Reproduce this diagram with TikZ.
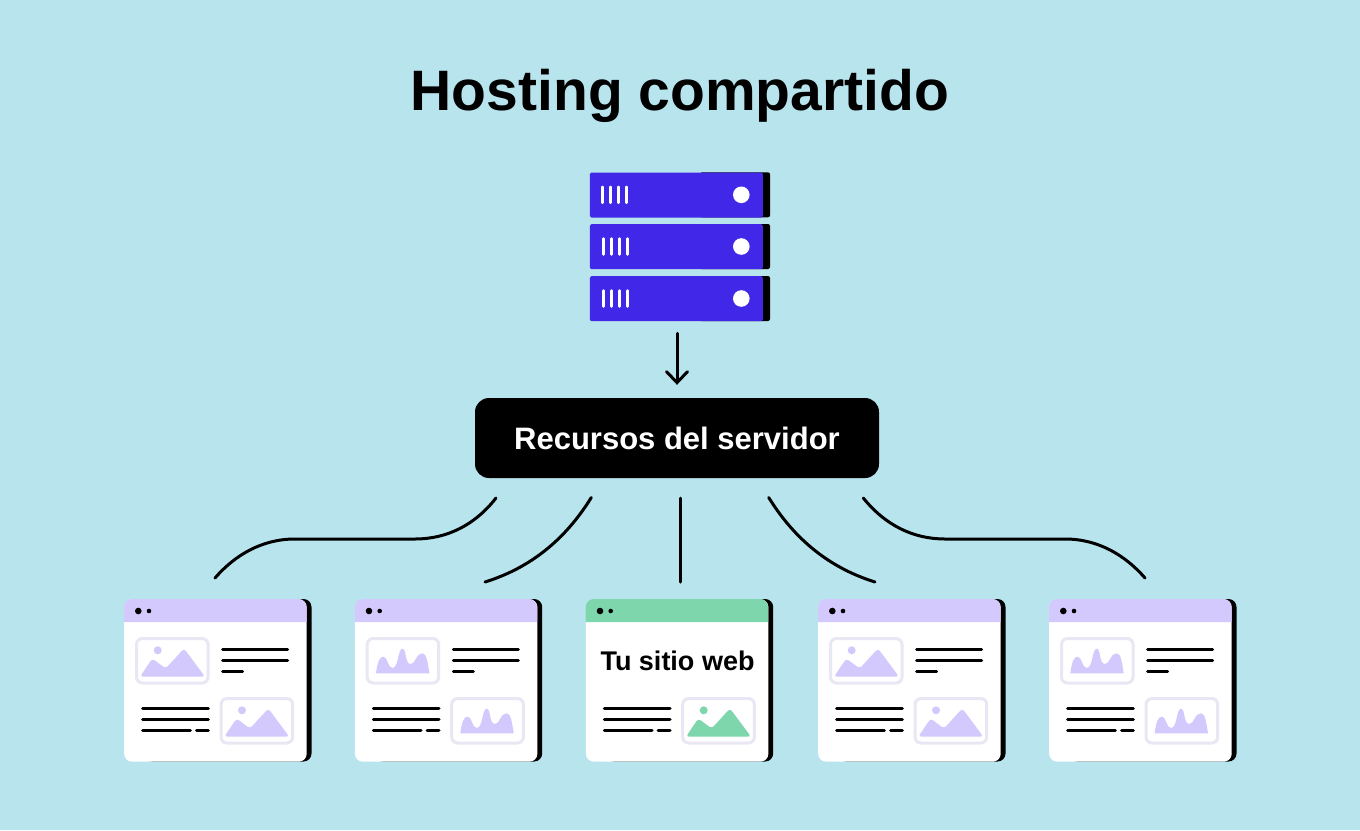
\documentclass[tikz,border=0pt]{standalone}
\usepackage{fontspec}
\setmainfont{Liberation Sans}
\usetikzlibrary{arrows.meta}

\definecolor{skybg}{HTML}{B8E4ED}
\definecolor{lilac}{HTML}{D3C9FC}
\definecolor{mint}{HTML}{7DD6AC}
\definecolor{rackblue}{HTML}{4128E8}
\definecolor{frameline}{HTML}{E9E7F3}

\tikzset{
  rack/.style={fill=rackblue,draw=none,rectangle,rounded corners=1.5pt,minimum width=173pt,minimum height=45pt,inner sep=0pt,anchor=north west},
  rackback/.style={fill=black,rounded corners=2pt},
  rackmark/.style={white,line width=2.5pt,line cap=round},
  winbox/.style={fill=white,draw=none,rectangle,rounded corners=8pt,minimum width=182.5pt,minimum height=162.5pt,inner sep=0pt,anchor=north west},
  textline/.style={black,line width=3pt,line cap=round},
  link/.style={black,line width=3pt,line cap=round},
  picframe/.style={frameline,line width=3pt,rounded corners=6pt}
}

% pictures inside a frame, #1 and #2 are the top left of the window
\newcommand{\mountain}[3]{
  \fill[#3] (#1+33.7,#2+51.3) circle[radius=4pt];
  \fill[#3,rounded corners=3pt] (#1+16,#2+77.7) -- (#1+28.3,#2+59.5) -- (#1+41.7,#2+69.5) -- (#1+60,#2+49.5) -- (#1+81,#2+77.7) -- cycle;
}
\newcommand{\waves}[3]{
  \fill[#3] (#1+21.3,#2+74.3) .. controls (#1+23,#2+62) and (#1+25,#2+57.7) .. (#1+28.7,#2+57.7)
    .. controls (#1+33,#2+57.7) and (#1+33,#2+69) .. (#1+37.7,#2+69)
    .. controls (#1+44,#2+69) and (#1+43,#2+49.7) .. (#1+47.7,#2+49.7)
    .. controls (#1+52,#2+49.7) and (#1+50,#2+65) .. (#1+56,#2+65)
    .. controls (#1+61,#2+65) and (#1+61,#2+54.3) .. (#1+67.7,#2+54.3)
    .. controls (#1+72,#2+54.3) and (#1+73,#2+64) .. (#1+74.7,#2+74.3) -- cycle;
}
% shadow, body, title bar and dots of one window
\newcommand{\webwindow}[3]{
  \fill[black,rounded corners=8pt] (#2+20,599) rectangle (#2+187.5,761.5);
  \node[winbox] (#1) at (#2,599) {};
  \fill[#3] (#2,622) [rounded corners=8pt] -- (#2,599) -- (#2+182.5,599) [sharp corners] -- (#2+182.5,622) -- cycle;
  \fill[black] (#2+14.3,611) circle[radius=3.3pt];
  \fill[black] (#2+25,611) circle[radius=2.3pt];
}
% lines of text and frame, lower half and upper half
\newcommand{\lowerblock}[1]{
  \draw[picframe] (#1+97,698.5) rectangle (#1+168.7,743);
  \draw[textline] (#1+18.7,708.3) -- (#1+84.3,708.3);
  \draw[textline] (#1+18.7,719.3) -- (#1+84.3,719.3);
  \draw[textline] (#1+18.7,730.3) -- (#1+66.3,730.3);
  \draw[textline] (#1+72.5,730.3) -- (#1+84.3,730.3);
}
\newcommand{\upperblock}[1]{
  \draw[picframe] (#1+12.5,638.5) rectangle (#1+84,683);
  \draw[textline] (#1+98.7,649.3) -- (#1+163.7,649.3);
  \draw[textline] (#1+98.7,660.3) -- (#1+163.7,660.3);
  \draw[textline] (#1+98.7,671.3) -- (#1+118.7,671.3);
}

\begin{document}
\begin{tikzpicture}[x=1pt,y=-1pt]
  \useasboundingbox (0,0) rectangle (1360,830);
  \fill[skybg] (0,0) rectangle (1360,830);

  \node (title) at (680,96) {\fontsize{57}{60}\selectfont\bfseries Hosting compartido};

  % server
  \foreach \rackname/\ypos/\xmark in {racka/172.3/0,rackb/224/1,rackc/276/1} {
    \fill[rackback] (700,\ypos) rectangle (770,\ypos+45);
    \node[rack] (\rackname) at (589.7,\ypos) {};
    \foreach \x in {602.7,610.7,618.7,626.7} \draw[rackmark] (\x+\xmark,\ypos+14.5) -- (\x+\xmark,\ypos+30.5);
    \fill[white] (741.3,\ypos+22.5) circle[radius=8.3pt];
  }

  \node[fill=black,text=white,rounded corners=14pt,minimum width=404pt,minimum height=80pt,inner sep=0pt] (recursos) at (677,438) {\fontsize{31}{34}\selectfont\bfseries Recursos del servidor};
  \draw[link,-{Straight Barb[length=11pt,width=21pt,line cap=round]},shorten <=12pt,shorten >=13pt] (rackc.south -| recursos.north) -- (recursos.north);

  % windows
  \foreach \winname/\xpos/\headcol/\picmacro in {wina/124/lilac/\mountain,winb/354.7/lilac/\waves,wind/818/lilac/\mountain,wine/1049/lilac/\waves} {
    \webwindow{\winname}{\xpos}{\headcol}
    \upperblock{\xpos}
    \lowerblock{\xpos}
    \picmacro{\xpos}{599}{lilac}
    \picmacro{\xpos+84.3}{659}{lilac}
  }
  \webwindow{winc}{585.7}{mint}
  \lowerblock{585.7}
  \mountain{585.7+84.3}{659}{mint}
  \node (sitio) at (677.5,661) {\fontsize{27}{30}\selectfont\bfseries Tu sitio web};

  % connectors
  \coordinate (linka) at (496,498);
  \coordinate (linkb) at (591.3,497.5);
  \coordinate (linkc) at (680,498);
  \coordinate (linkd) at (768.7,497.5);
  \coordinate (linke) at (863.3,498);
  \coordinate (enda) at (215,578);
  \coordinate (endb) at (485,582);
  \coordinate (endc) at (680,582);
  \coordinate (endd) at (875,582);
  \coordinate (ende) at (1145,578);
  \draw[link] (linka) .. controls (475,525) and (447,539) .. (415,539) -- (295,539) .. controls (262,539) and (235,555) .. (enda);
  \draw[link] (linkb) .. controls (565,540) and (530,568) .. (endb);
  \draw[link] (linkc) -- (endc);
  \draw[link] (linkd) .. controls (795,540) and (830,568) .. (endd);
  \draw[link] (linke) .. controls (885,525) and (913,539) .. (945,539) -- (1065,539) .. controls (1098,539) and (1125,555) .. (ende);
\end{tikzpicture}
\end{document}
